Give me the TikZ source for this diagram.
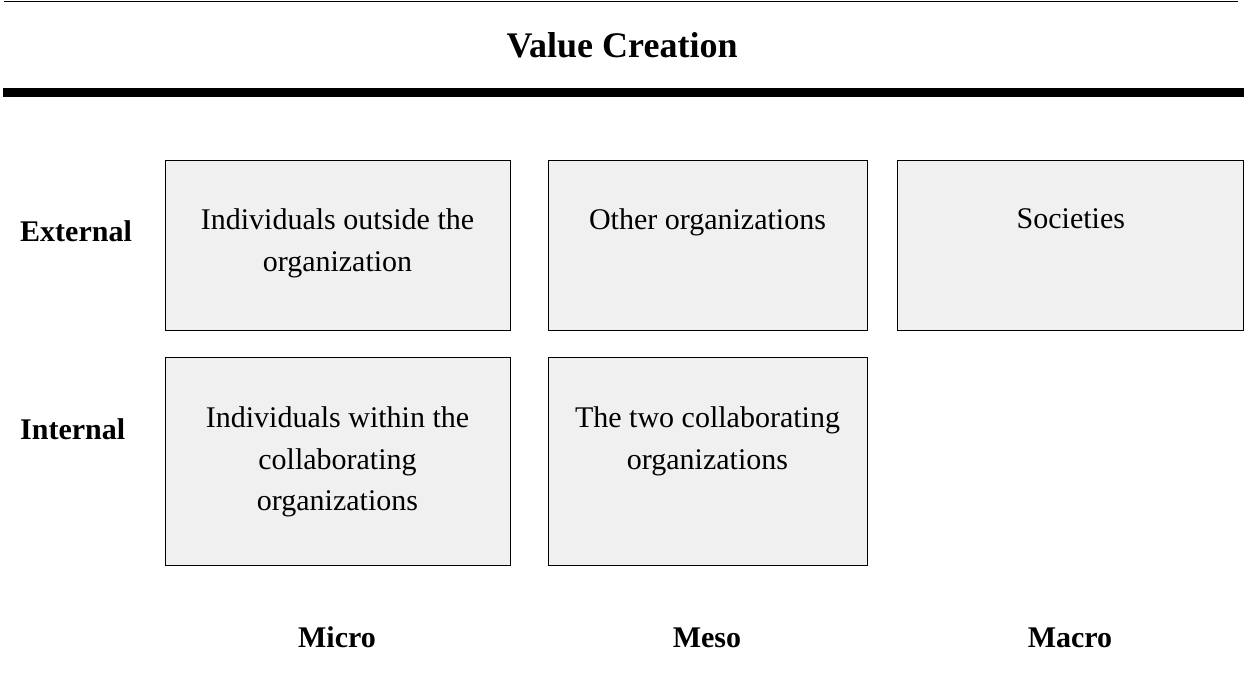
\documentclass[tikz,border=0pt]{standalone}
\usepackage{fontspec}
\setmainfont{Liberation Serif}
\usetikzlibrary{calc}
\definecolor{boxfill}{HTML}{F0F0F0}
\tikzset{
  cell/.style={draw=black, line width=1pt, fill=boxfill, rectangle, inner sep=0pt, anchor=north west},
  celltext/.style={inner sep=0pt, anchor=north, align=center, font=\fontsize{30}{41.5}\selectfont},
  rowlabel/.style={inner sep=0pt, anchor=base west, font=\fontsize{30}{36}\selectfont\bfseries},
  collabel/.style={inner sep=0pt, anchor=base, font=\fontsize{30}{36}\selectfont\bfseries},
  titletext/.style={inner sep=0pt, anchor=base, font=\fontsize{36}{42}\selectfont\bfseries},
}
\begin{document}
\begin{tikzpicture}[x=1pt, y=-1pt]
\useasboundingbox (0,0) rectangle (1244,672);
% rules
\draw[line width=1pt] (4,1.2) -- (1238,1.2);
\fill[black] (3,87.7) rectangle (1244,97);
% title
\node[titletext] (title) at (622,57.7) {Value Creation};
% boxes
\node[cell, minimum width=345pt, minimum height=170pt] (b1) at (164.5,160.3) {};
\node[cell, minimum width=319pt, minimum height=170pt] (b2) at (547.5,160.3) {};
\node[cell, minimum width=346pt, minimum height=170pt] (b3) at (897.3,160.3) {};
\node[cell, minimum width=345pt, minimum height=208pt] (b4) at (164.5,357.3) {};
\node[cell, minimum width=319pt, minimum height=208pt] (b5) at (547.5,357.3) {};
% box texts
\node[celltext] (t1) at ($(b1.north)+(0,48.5)$) {Individuals outside the\\organization};
\node[celltext] (t2) at ($(b2.north)+(0,48.5)$) {Other organizations};
\node[celltext] (t3) at ($(b3.north)+(0,48.5)$) {Societies};
\node[celltext] (t4) at ($(b4.north)+(0,49.5)$) {Individuals within the\\collaborating\\organizations};
\node[celltext] (t5) at ($(b5.north)+(0,49.5)$) {The two collaborating\\organizations};
% row labels
\node[rowlabel] (ext) at (20,241.7) {External};
\node[rowlabel] (int) at (20,439.3) {Internal};
% column labels
\node[collabel] (micro) at (337,647) {Micro};
\node[collabel] (meso) at (707,647) {Meso};
\node[collabel] (macro) at (1070,647) {Macro};
\end{tikzpicture}
\end{document}
